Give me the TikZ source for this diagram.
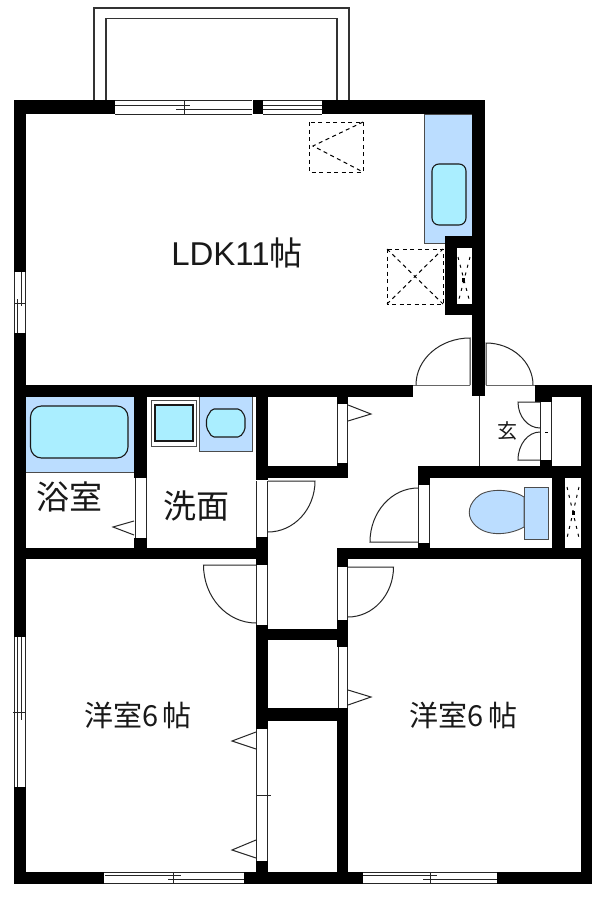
\documentclass[tikz,border=0pt]{standalone}
\usepackage{fontspec}
\setmainfont{Liberation Sans}
\newfontfamily\jpfont{Noto Sans CJK JP}
\definecolor{fixblue}{HTML}{BBDDFF}
\definecolor{fixcyan}{HTML}{AAEEFF}
\tikzset{
 x=1pt,y=-1pt,
 thin line/.style={line width=0.9pt,draw=black!85},
 frame/.style={line width=1.2pt,draw=black!80},
 dashline/.style={line width=1pt,draw=black,dash pattern=on 4pt off 3.5pt},
 vent/.style={line width=1pt,draw=black,dash pattern=on 3pt off 5pt},
 arc line/.style={line width=1pt,draw=black!85},
 blue fix/.style={line width=0.9pt,draw=black!70,fill=fixblue},
 cyan fix/.style={line width=1.1pt,draw=black!90,fill=fixcyan},
 label/.style={inner sep=0pt,text=black!90},
}
\newcommand{\WL}[4]{\fill[black] (#1,#2) rectangle (#3,#4);}
\begin{document}
\begin{tikzpicture}
\useasboundingbox (0,0) rectangle (600,902);
\fill[white] (0,0) rectangle (600,902);
% balcony
\draw[frame] (94,100) -- (94,8) -- (349,8) -- (349,100);
\draw[frame] (106,100) -- (106,18.5) -- (337,18.5) -- (337,100);
% fixtures, kitchen
\draw[blue fix] (424.5,114) rectangle (472,243);
\draw[cyan fix,rounded corners=7pt] (432,164) rectangle (466,225);
% bath
\draw[blue fix] (25.5,396) rectangle (134,472.5);
\draw[cyan fix,rounded corners=11pt] (30.5,406) rectangle (128,458);
% wash
\draw[line width=0.9pt,draw=black!70] (151,400) rectangle (196,446);
\draw[cyan fix] (155,405) rectangle (193,441);
\draw[blue fix] (199,396) rectangle (252,451);
\draw[cyan fix,rounded corners=2pt] (212,409) -- (240,409) -- (245,416) -- (245,430) -- (240,437) -- (212,437) -- (206.5,428) -- (206.5,418) -- cycle;
% walls
\WL{13.5}{100}{115}{114}
\WL{253}{100}{263}{114}
\WL{322}{100}{484}{114}
\WL{13.5}{100}{25.5}{272}
\WL{13.5}{333}{25.5}{637}
\WL{13.5}{787}{25.5}{884}
\WL{472}{100}{485}{396}
\WL{445}{236}{472}{248}
\WL{445}{236}{457}{315}
\WL{445}{304}{472}{315}
\WL{13.5}{385}{413}{396.5}
\WL{535}{385}{592}{396.5}
\WL{535}{385}{552}{402}
\WL{581}{385}{592}{884}
\WL{134}{396}{147}{478}
\WL{134}{538}{147}{548}
\WL{13.5}{547.5}{268}{559}
\WL{256}{396}{268}{480}
\WL{256}{537}{268}{565}
\WL{256}{625}{268}{729}
\WL{256}{861}{268}{884}
\WL{256}{466}{348}{477.5}
\WL{337}{396}{348}{404}
\WL{337}{463}{348}{477.5}
\WL{418}{466}{592}{478}
\WL{418}{466}{430}{485}
\WL{418}{543}{430}{548}
\WL{337}{547.5}{592}{559}
\WL{337}{547.5}{348}{567}
\WL{337}{620}{348}{647}
\WL{337}{708}{348}{884}
\WL{256}{628.5}{348}{640}
\WL{256}{708}{348}{721}
\WL{552}{466}{565}{548}
\WL{540}{460}{552}{466}
\WL{13.5}{872}{104}{884}
\WL{244}{872}{363}{884}
\WL{497}{872}{592}{884}
% top windows
\draw[thin line] (115,100.5) -- (252,100.5) (115,114) -- (252,114);
\draw[thin line] (115,105.5) -- (190,105.5) (176,109.5) -- (252,109.5) (184,100.5) -- (184,115);
\draw[thin line] (263,100.5) -- (322,100.5) (263,114) -- (322,114) (263,105.5) -- (322,105.5) (263,109.5) -- (322,109.5);
% left windows
\draw[thin line] (14,272) -- (14,333) (25,272) -- (25,333) (21,272) -- (21,306) (17,299) -- (17,333) (14,303) -- (25,303);
\draw[thin line] (14,637) -- (14,787) (25,637) -- (25,787) (17,637) -- (17,787) (21,637) -- (21,720) (13,712) -- (25,712);
% bottom windows
\draw[thin line] (104,872) -- (244,872) (104,883.5) -- (244,883.5) (105,875.5) -- (181,875.5) (168,879) -- (244,879) (173,872) -- (173,884);
\draw[thin line] (363,872) -- (497,872) (363,883.5) -- (497,883.5) (363,875.5) -- (437,875.5) (423,879) -- (497,879) (430,872) -- (430,884);
% openings in walls
\fill[white] (413,385) rectangle (470,397);
\fill[white] (486,385) rectangle (535,397);
\draw[thin line,draw=black!60] (413,385) -- (470,385) (486,385) -- (535,385);
\draw[thin line] (135,478) -- (135,538) (146,478) -- (146,538);
\draw[thin line] (256.5,481) -- (256.5,537) (267.5,481) -- (267.5,537);
\draw[thin line] (256.5,565) -- (256.5,625) (267.5,565) -- (267.5,625);
\draw[thin line] (337.5,404) -- (337.5,463) (347.5,404) -- (347.5,463);
\draw[thin line] (418.5,485) -- (418.5,543) (429.5,485) -- (429.5,543);
\draw[thin line] (337.5,567) -- (337.5,620) (347.5,567) -- (347.5,620);
\draw[thin line] (338,647) -- (338,708) (347.5,647) -- (347.5,708);
\draw[thin line] (256.5,729) -- (256.5,861) (267.5,729) -- (267.5,861) (256,795) -- (271,795);
% doors
\draw[arc line] (470,385) -- (470,338) arc[start angle=90,end angle=180,x radius=54,y radius=-47];
\draw[arc line] (486,385) -- (486,343) arc[start angle=90,end angle=0,x radius=47,y radius=-42];
\draw[arc line] (268,481) -- (315,481) arc[start angle=0,end angle=-90,x radius=47,y radius=-51];
\draw[arc line] (256,565) -- (203.5,565) arc[start angle=180,end angle=270,x radius=52.5,y radius=-58];
\draw[arc line] (348,567) -- (393.5,567) arc[start angle=0,end angle=-90,x radius=45.5,y radius=-50];
\draw[arc line] (418,542) -- (370,542) arc[start angle=180,end angle=90,x radius=48,y radius=-54];
% sliding door triangles
\draw[arc line] (134,521) -- (113,527) -- (134,535);
\draw[arc line] (348,405) -- (371,414) -- (348,421);
\draw[arc line] (348,690) -- (371,697) -- (348,705);
\draw[arc line] (256,732) -- (232,741) -- (256,749);
\draw[arc line] (256,840) -- (232,850) -- (256,858);
% entrance
\draw[thin line] (479,396) -- (479,466);
\draw[thin line] (540,402) -- (540,460) (551.5,402) -- (551.5,460);
\draw[arc line] (540,402) -- (518,402) arc[start angle=180,end angle=270,x radius=22,y radius=-26];
\draw[arc line] (540,460) -- (518,460) arc[start angle=180,end angle=90,x radius=22,y radius=-28];
\draw[line width=1pt] (545,432) -- (548,432);
% toilet
\draw[blue fix] (524,487) rectangle (548,539);
\draw[blue fix] (524,497) .. controls (510,488) and (485,488) .. (476,498) .. controls (467,507) and (467,518) .. (476,526) .. controls (488,537) and (510,535) .. (524,527) -- cycle;
% dashed fixtures
\draw[dashline] (309,122) rectangle (363,172);
\draw[dashline] (363,122) -- (313,146) -- (363,172);
\draw[dashline] (387,249) rectangle (443,304);
\draw[dashline] (387,249) -- (443,304) (387,304) -- (443,249);
\draw[vent] (458,257) -- (470,303) (470,257) -- (458,303);
\fill[black] (462,277.5) rectangle (465,281.5);
\draw[vent] (567,487) -- (579,538) (579,487) -- (567,538);
\fill[black] (571.5,510.5) rectangle (574.5,514.5);
% texts
\node[label,font=\fontsize{33}{33}\selectfont,anchor=base] (ldk) at (237,265.5) {LDK11{\jpfont 帖}};
\node[label,font=\jpfont\fontsize{33}{33}\selectfont,anchor=base] (bath) at (69.5,509) {浴室};
\node[label,font=\jpfont\fontsize{33}{33}\selectfont,anchor=base] (wash) at (196,518) {洗面};
\node[label,font=\jpfont\fontsize{29}{29}\selectfont,anchor=base] (room1) at (138,726.5) {洋室6\hspace{4pt}帖};
\node[label,font=\jpfont\fontsize{29}{29}\selectfont,anchor=base] (room2) at (463.5,726.5) {洋室6\hspace{4pt}帖};
\node[label,font=\jpfont\fontsize{20}{20}\selectfont,anchor=center] (gen) at (507.5,431) {玄};
\end{tikzpicture}
\end{document}
